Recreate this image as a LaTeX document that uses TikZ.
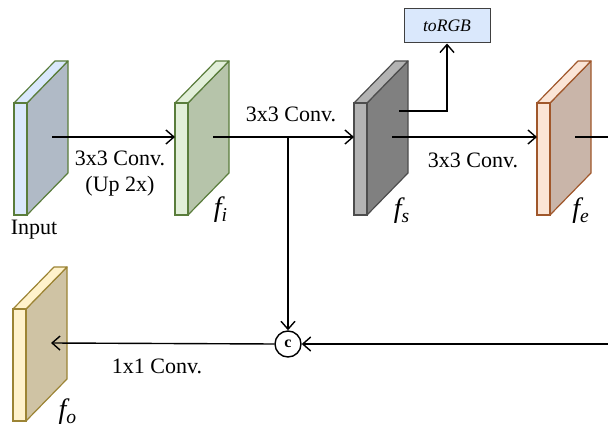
\documentclass[tikz,border=0pt]{standalone}
\usepackage{fontspec}
\setmainfont{Liberation Serif}
\usepackage{tikz}
\usetikzlibrary{positioning,calc}
\usetikzlibrary{arrows.meta}
\definecolor{InFront}{RGB}{218,232,252}
\definecolor{InSide}{RGB}{176,186,198}
\definecolor{InLine}{RGB}{90,125,60}
\definecolor{FiFront}{RGB}{226,239,217}
\definecolor{FiSide}{RGB}{182,196,170}
\definecolor{FiLine}{RGB}{90,125,60}
\definecolor{FsFront}{RGB}{179,179,179}
\definecolor{FsSide}{RGB}{128,128,128}
\definecolor{FsLine}{RGB}{77,77,77}
\definecolor{FeFront}{RGB}{251,229,214}
\definecolor{FeSide}{RGB}{201,181,169}
\definecolor{FeLine}{RGB}{160,87,43}
\definecolor{FoFront}{RGB}{255,242,204}
\definecolor{FoSide}{RGB}{207,195,164}
\definecolor{FoLine}{RGB}{156,132,53}
\definecolor{RgbFill}{RGB}{218,232,252}
\tikzset{
  conn/.style={draw=black,line width=0.7pt},
  arr/.style={conn,-{Straight Barb[length=4pt,width=7pt,line width=0.7pt]}},
  lbl/.style={font=\fontsize{11}{13}\selectfont,align=center,inner sep=0pt},
  flbl/.style={font=\fontsize{14}{16}\selectfont\itshape,inner sep=0pt},
  rgbbox/.style={draw=black!75,fill=RgbFill,line width=0.5pt,minimum width=43pt,minimum height=17pt,font=\fontsize{8.8}{10}\itshape},
  cat/.style={circle,draw=black,line width=0.7pt,minimum size=13pt,inner sep=0pt,font=\fontsize{8}{9}\bfseries},
}
\newcommand{\fmap}[4]{%
  \draw[draw=#4Line,fill=#4Side,line width=0.6pt,line join=round] (#2+13,#3) -- (#2+13,#3+112) -- (#2+54,#3+70) -- (#2+54,#3-42) -- cycle;
  \draw[draw=#4Line,fill=#4Front,line width=0.6pt,line join=round] (#2,#3) -- (#2+13,#3) -- (#2+54,#3-42) -- (#2+41,#3-42) -- cycle;
  \draw[draw=#4Line,fill=#4Front,line width=0.6pt] (#2,#3) rectangle (#2+13,#3+112);
  \coordinate (#1) at (#2+38,#3+34);
  \coordinate (#1-in) at (#2,#3+34);
}

\begin{document}
\begin{tikzpicture}[x=0.5pt,y=-0.5pt]
\useasboundingbox (0,0) rectangle (608,431);
\fmap{input}{14}{103}{In}
\fmap{fi}{175}{103}{Fi}
\fmap{fs}{354}{103}{Fs}
\fmap{fe}{537}{103}{Fe}
\fmap{fo}{13}{309}{Fo}
\node[rgbbox] (rgb) at (447,26) {toRGB};
\node[cat] (cat) at (288,344) {c};
\coordinate (br) at (288,137);
\coordinate (rgbturn) at (rgb.south |- 0,111);
\coordinate (fsrgb) at (399,111);
\coordinate (edgetop) at (608,137);
\coordinate (edgebot) at (608,344);
\draw[arr] (input) -- (fi-in);
\draw[arr] (fi) -- (fs-in);
\draw[arr] (fs) -- (fe-in);
\draw[conn] (fe) -- (edgetop);
\draw[arr] (fsrgb) -- (rgbturn) -- (rgb.south);
\draw[arr] (br) -- (cat.north);
\draw[arr] (edgebot) -- (cat.east);
\draw[arr] (cat.west) -- (fo);
\node[lbl] (up) at (120,174) {3x3 Conv.\\(Up 2x)};
\node[lbl] (conv1) at (291,114) {3x3 Conv.};
\node[lbl] (conv2) at (473,160) {3x3 Conv.};
\node[lbl] (conv3) at (157,366) {1x1 Conv.};
\node[lbl] (inlbl) at (34,230) {Input};
\node[flbl] (filbl) at (221,210) {f\textsubscript{i}};
\node[flbl] (fslbl) at (402,211) {f\textsubscript{s}};
\node[flbl] (felbl) at (581,211) {f\textsubscript{e}};
\node[flbl] (folbl) at (68,412) {f\textsubscript{o}};
\end{tikzpicture}
\end{document}
